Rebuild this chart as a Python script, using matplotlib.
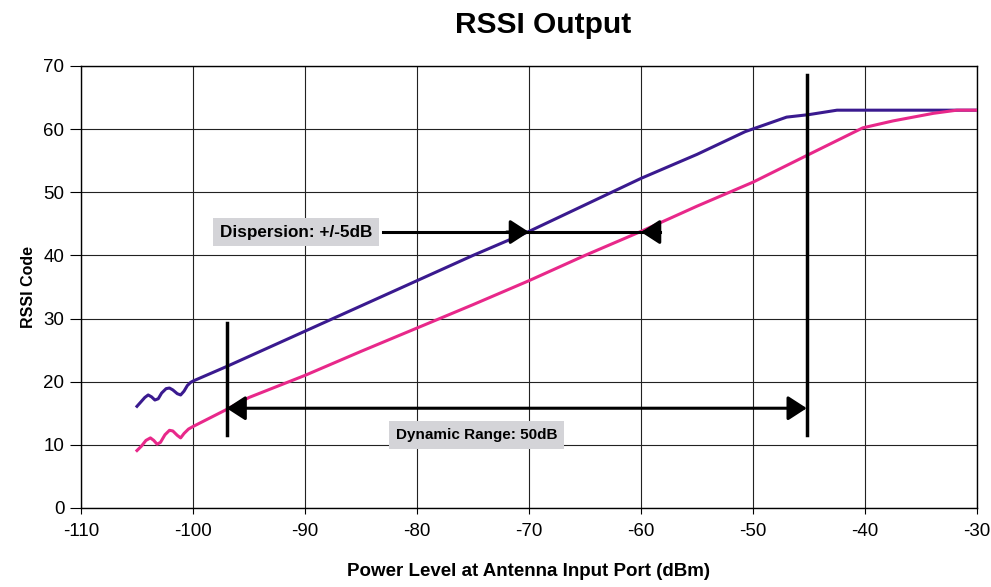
import numpy as np
import matplotlib.pyplot as plt

plt.rcParams['font.family'] = ['Liberation Sans', 'DejaVu Sans']
plt.rcParams['axes.unicode_minus'] = False

# upper curve (purple)
upper_x = [-105, -104.7, -104.3, -104, -103.7, -103.4, -103.1, -102.8, -102.4, -102.1,
           -101.8, -101.4, -101.1, -100.8, -100.5, -100.2, -100,
           -97, -95, -90, -85, -80, -75, -70, -65, -60, -55, -50.7, -47, -45, -42.5, -40, -35, -30]
upper_y = [16.1, 16.7, 17.5, 17.9, 17.6, 17.1, 17.3, 18.2, 18.9, 19.0,
           18.7, 18.1, 17.9, 18.5, 19.4, 19.9, 20.1,
           22.4, 24.0, 28.0, 32.0, 36.0, 40.0, 43.8, 48.0, 52.2, 56.0, 59.6, 61.9, 62.3, 63.0, 63.0, 63.0, 63.0]

# lower curve (pink)
lower_x = [-105, -104.6, -104.2, -103.8, -103.5, -103.2, -102.9, -102.5, -102.1,
           -101.8, -101.4, -101.1, -100.8, -100.4, -100,
           -97, -95, -90, -85, -80, -75, -70, -65, -60, -55, -50, -45, -40.2, -37.5, -33.9, -31.8, -30]
lower_y = [9.1, 9.8, 10.7, 11.1, 10.7, 10.1, 10.4, 11.6, 12.3,
           12.2, 11.5, 11.1, 11.8, 12.5, 12.9,
           15.6, 17.5, 21.0, 24.8, 28.5, 32.2, 36.0, 40.0, 43.8, 47.8, 51.6, 56.0, 60.2, 61.3, 62.5, 63.0, 63.0]

x_ticks = list(range(-110, -29, 10))
y_ticks = list(range(0, 71, 10))

fig = plt.figure(figsize=(9.91, 5.87), dpi=100)
ax = fig.add_axes([0.0817, 0.1346, 0.9042, 0.753])

ax.plot(upper_x, upper_y, color='#3a1a8f', lw=2.2, zorder=3)
ax.plot(lower_x, lower_y, color='#e8288a', lw=2.2, zorder=3)

ax.set_xlim(-110, -30)
ax.set_ylim(0, 70)
ax.set_xticks(x_ticks)
ax.set_yticks(y_ticks)
ax.grid(True, color='#222222', lw=0.8)
ax.set_axisbelow(True)
for s in ax.spines.values():
    s.set_linewidth(1.0)
ax.tick_params(axis='y', labelsize=13.5, length=8, direction='out', pad=4)
ax.tick_params(axis='x', labelsize=13.5, length=4.5, direction='out', pad=6)

head = '-|>,head_length=0.85,head_width=0.55'
head2 = '<|-|>,head_length=0.85,head_width=0.55'
ms = 13.5

# vertical markers
ax.plot([-97, -97], [11.5, 29.3], color='black', lw=2.5, zorder=4)
ax.plot([-45.2, -45.2], [11.5, 68.6], color='black', lw=2.5, zorder=4)

# dynamic range arrow
ax.annotate('', xy=(-97, 15.8), xytext=(-45.2, 15.8),
            arrowprops=dict(arrowstyle=head2, color='black', lw=2.2,
                            mutation_scale=ms, shrinkA=0, shrinkB=0), zorder=5)
ax.text(-74.7, 11.5, 'Dynamic Range: 50dB', fontsize=11, fontweight='bold',
        ha='center', va='center', zorder=6,
        bbox=dict(boxstyle='square,pad=0.45', fc='#d4d4d8', ec='none'))

# dispersion arrows
ax.plot([-83.0, -58.3], [43.7, 43.7], color='black', lw=2.2, zorder=4)
ax.annotate('', xy=(-70, 43.7), xytext=(-72, 43.7),
            arrowprops=dict(arrowstyle=head, color='black', lw=2.2,
                            mutation_scale=ms, shrinkA=0, shrinkB=0), zorder=5)
ax.annotate('', xy=(-60, 43.7), xytext=(-58.3, 43.7),
            arrowprops=dict(arrowstyle=head, color='black', lw=2.2,
                            mutation_scale=ms, shrinkA=0, shrinkB=0), zorder=5)
ax.text(-90.8, 43.7, 'Dispersion: +/-5dB', fontsize=12.3, fontweight='bold',
        ha='center', va='center', zorder=6,
        bbox=dict(boxstyle='square,pad=0.4', fc='#d4d4d8', ec='none'))

fig.text(0.548, 0.957, 'RSSI Output', fontsize=21.5, fontweight='bold', ha='center', va='center')
ax.set_xlabel('Power Level at Antenna Input Port (dBm)', fontsize=13.5, fontweight='bold', labelpad=17)
ax.set_ylabel('RSSI Code', fontsize=11.5, fontweight='bold', labelpad=5)

fig.savefig('out.png', dpi=100)
